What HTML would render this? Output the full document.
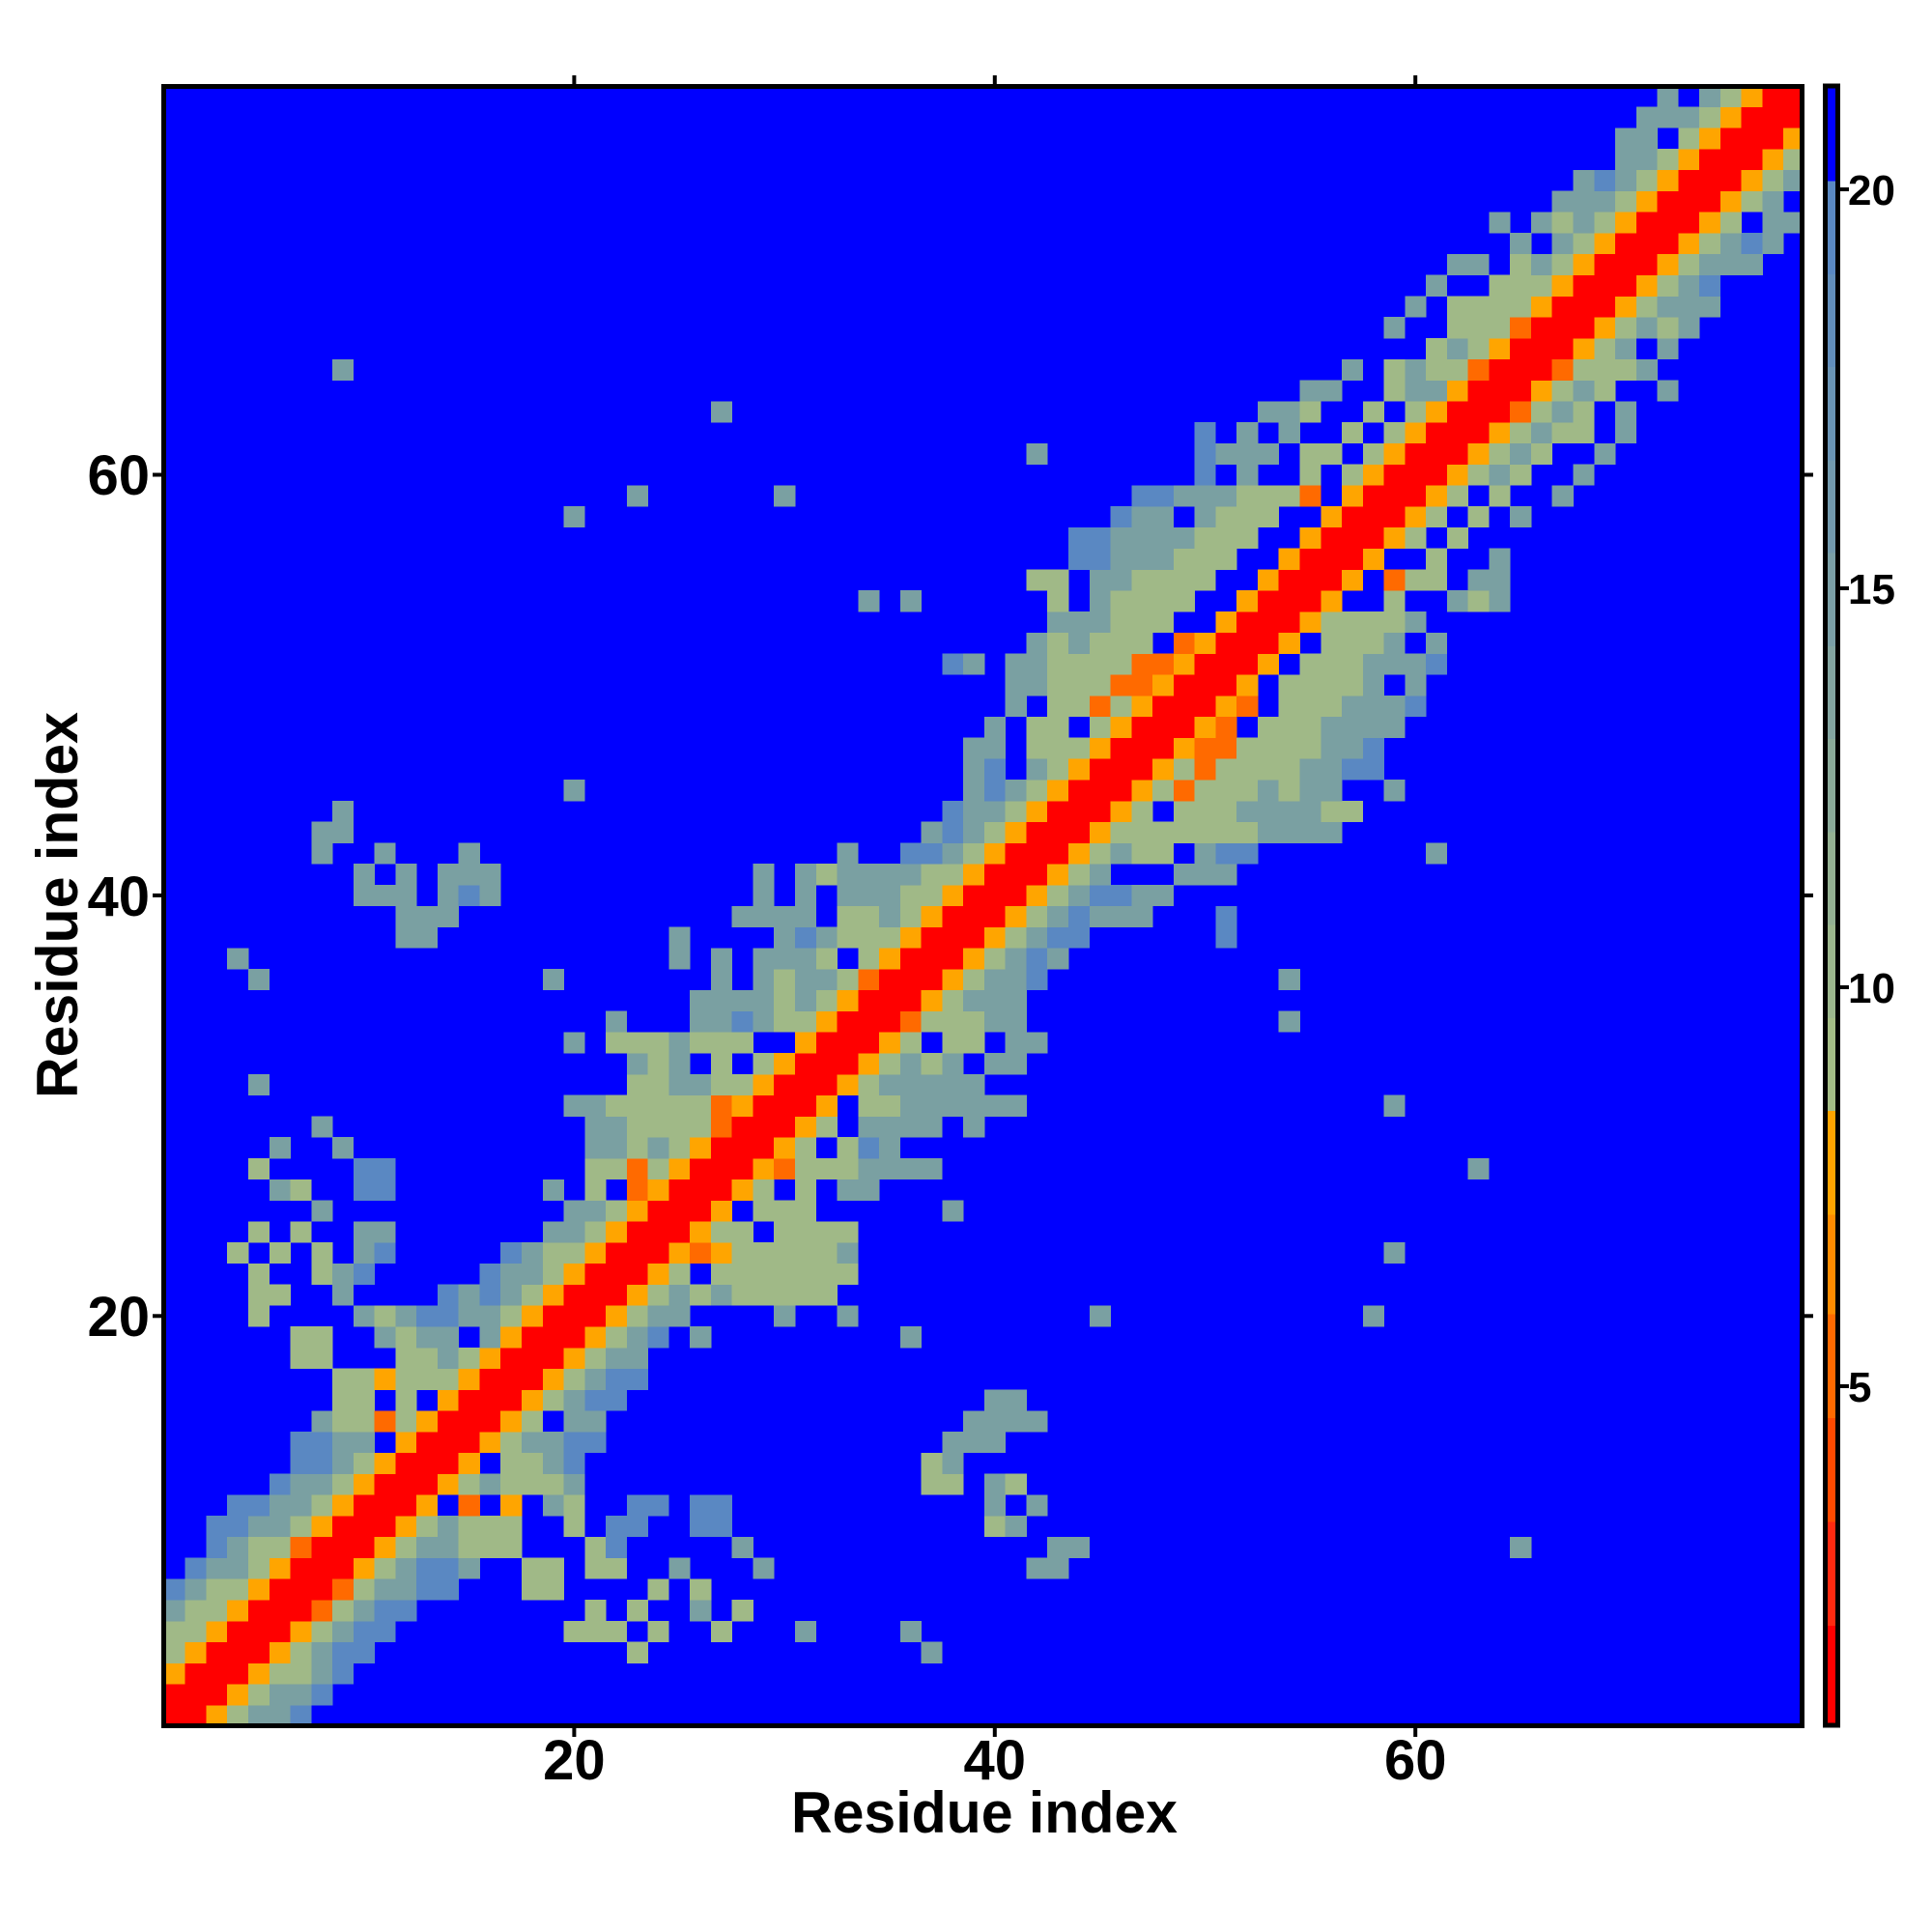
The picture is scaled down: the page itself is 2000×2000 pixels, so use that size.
<!DOCTYPE html>
<html><head><meta charset="utf-8"><style>
html,body{margin:0;padding:0;background:#fff;width:2000px;height:2000px;overflow:hidden}
svg{display:block}
text{font-family:"Liberation Sans",Arial,sans-serif;font-weight:bold;fill:#000}
</style></head><body>
<svg id="s" width="2000" height="2000" viewBox="0 0 2000 2000" xmlns="http://www.w3.org/2000/svg">
<defs><clipPath id="cp"><rect x="169" y="88" width="1699" height="1699"/></clipPath></defs>
<rect x="169" y="88" width="1699" height="1699" fill="#0000ff"/>
<g id="cells" clip-path="url(#cp)" shape-rendering="crispEdges"></g>
<rect x="169.5" y="89.5" width="1696" height="1697" fill="none" stroke="#000" stroke-width="5"/>
<g stroke="#000" stroke-width="4">
<line x1="158" y1="1362.3" x2="169" y2="1362.3"/><line x1="158" y1="926.9" x2="169" y2="926.9"/><line x1="158" y1="491.5" x2="169" y2="491.5"/>
<line x1="1866" y1="1362.3" x2="1877" y2="1362.3"/><line x1="1866" y1="926.9" x2="1877" y2="926.9"/><line x1="1866" y1="491.5" x2="1877" y2="491.5"/>
<line x1="594.4" y1="1787" x2="594.4" y2="1798"/><line x1="1029.8" y1="1787" x2="1029.8" y2="1798"/><line x1="1465.2" y1="1787" x2="1465.2" y2="1798"/>
<line x1="594.4" y1="78" x2="594.4" y2="89"/><line x1="1029.8" y1="78" x2="1029.8" y2="89"/><line x1="1465.2" y1="78" x2="1465.2" y2="89"/>
</g>
<g font-size="58" text-anchor="middle">
<text x="594.4" y="1842">20</text><text x="1029.8" y="1842">40</text><text x="1465.2" y="1842">60</text>
</g>
<g font-size="58" text-anchor="end">
<text x="155" y="1383">20</text><text x="155" y="948">40</text><text x="155" y="512">60</text>
</g>
<text x="1019" y="1897" font-size="60" text-anchor="middle" textLength="400" lengthAdjust="spacingAndGlyphs">Residue index</text>
<text transform="translate(80,937) rotate(-90)" x="0" y="0" font-size="60" text-anchor="middle" textLength="400" lengthAdjust="spacingAndGlyphs">Residue index</text>
<g id="cb" shape-rendering="crispEdges"></g>
<rect x="1889.5" y="89" width="13" height="1697" fill="none" stroke="#000" stroke-width="5"/>
<g stroke="#000" stroke-width="4">
<line x1="1904" y1="196" x2="1914" y2="196"/><line x1="1904" y1="609" x2="1914" y2="609"/><line x1="1904" y1="1022" x2="1914" y2="1022"/><line x1="1904" y1="1435" x2="1914" y2="1435"/>
</g>
<g font-size="44">
<text x="1913" y="212">20</text><text x="1913" y="625">15</text><text x="1913" y="1038">10</text><text x="1913" y="1451">5</text>
</g>
</svg>
<script>
var C={R:'#ff0000',O:'#ffa500',D:'#ff6a00',G:'#a0b987',M:'#7aa0a2',S:'#5a88c2','.':'#0000ff'};
var N=78,g=[];
for(var r=1;r<=N;r++){g[r]=[];for(var c=1;c<=N;c++){var d=Math.abs(r-c);g[r][c]=d<=1?'R':(d==2?'O':'.');}}
var D={
1:[[1,"RROGMMS"]],
2:[[1,"RRROGMMS"]],
3:[[1,"ORRROGGMS"]],
4:[[1,"GORRROGMSS"],[23,"G"],[37,"M"]],
5:[[1,"GGORRROGMSS"],[20,"GGG.G..G"],[31,"M"],[36,"M"]],
6:[[1,"MGGORRRDGMSS"],[21,"G.G..M.G"]],
7:[[1,"SMGGORRRDGMMSS"],[18,"GG"],[24,"G.G"]],
8:[[2,"SMMGORRROGMSSM"],[18,"GG"],[21,"GG"],[25,"M"],[29,"M"],[42,"MM"]],
9:[[3,"SMGGDRRROGMMGGG"],[21,"GS"],[28,"M"],[43,"MM"],[65,"M"]],
10:[[3,"SSMMGORRROGMGGG"],[20,"G.SS"],[26,"SS"],[40,"GM"]],
11:[[4,"SSMMGORRRO.D.O.MG"],[23,"SS.SS"],[40,"M.M"]],
12:[[6,"SMMGORRROGMGGGM"],[37,"GG.MG"]],
13:[[7,"SSMGORRRO.GGMS"],[37,"GM"]],
14:[[7,"SSMM.ORRROGMMSS"],[38,"MMM"]],
15:[[8,"MGGDGORRROG.MM"],[39,"MMMM"]],
16:[[9,"GG.G.ORRROGMSS"],[40,"MM"]],
17:[[9,"GGOGGGORRROGMSS"]],
18:[[7,"GG"],[12,"GGMGORRROGMM"]],
19:[[7,"GG"],[11,"MGMM.MORRROGMS.M"],[36,"M"]],
20:[[5,"G"],[10,"MGMSSMMGORRROGMM"],[30,"M"],[33,"M"],[45,"M"],[58,"M"]],
21:[[5,"GG"],[9,"M"],[14,"SMSMGORRROGMGM"],[28,"GGGGG"]],
22:[[5,"G"],[8,"GMS"],[16,"SMMGORRROG.G"],[28,"GGGGGG"]],
23:[[4,"G.G.G"],[10,"MS"],[17,"SMGGORRRODO"],[28,"GGGGGM"],[59,"M"]],
24:[[5,"G.G"],[10,"MM"],[19,"MMGORRROG"],[28,"G.GGGG"]],
25:[[8,"M"],[20,"MMGORRRO"],[29,"GGG"],[38,"M"]],
26:[[6,"MG"],[10,"SS"],[19,"M.G.DORRR"],[29,"G.G.MM"]],
27:[[5,"G"],[10,"SS"],[21,"GGDGORRRODGGGMMMM"],[63,"M"]],
28:[[6,"M"],[9,"M"],[21,"MMGMGORRROG.GSM"]],
29:[[8,"M"],[21,"MMGGGGDRRROG.MMMM.M"]],
30:[[20,"MMGGGGGDORRRO.GGMMMMMM"],[59,"M"]],
31:[[5,"M"],[23,"GGMMGGORRROGMMMMM"]],
32:[[23,"MGM.G.GORRROGMGM.MM"]],
33:[[20,"M.GGGMGGG..ORRROG.GG.MM"]],
34:[[22,"M...MMSMGGORRRDGGGMM"],[54,"M"]],
35:[[26,"MMMMGMGORRROGMMM"]],
36:[[5,"M"],[19,"M"],[27,"M.MGMMGDRRROGMMS"],[54,"M"]],
37:[[4,"M"],[25,"M"],[27,"M.MMMG.GORRROGMSM"]],
38:[[12,"MM"],[25,"M"],[30,"MSMGGGORRROGMSS"],[51,"S"]],
39:[[12,"MMM"],[28,"MMMM.GGMGORRROGMSMMM"],[51,"S"]],
40:[[10,"MMM.MSM"],[29,"M.M.MMMGGORRROGMSSMM"]],
41:[[10,"M.M.MMM"],[29,"M.MGMMMMGGORRROGM...MMM"]],
42:[[8,"M..M...M"],[33,"M..SSMGORRROGMGG.MSS"],[61,"M"]],
43:[[8,"MM"],[37,"MSMGORRROGGGGGGGMMMM"]],
44:[[9,"M"],[38,"SMMGORRROG.GGGMMMMGG"]],
45:[[20,"M"],[39,"MSMGORRROGDGGGMGMM..M"]],
46:[[39,"MS.MGORRROGDGGGGMMSS"]],
47:[[39,"MM.GGGORRRODDGGGGMMS"]],
48:[[40,"M.GG.GORRROD.GGGMMMM"]],
49:[[41,"M.GGDGORRROD.GGGMMMS"]],
50:[[41,"MMGGGDDORRRO.GGGGM.M"]],
51:[[38,"SM.MMGGGGDDORRRO.GGGMMMS"]],
52:[[42,"MGMGGG.DORRRO.GGGM.M"]],
53:[[43,"MMMGGG..ORRROGGGGM"]],
54:[[34,"M"],[36,"M"],[43,"G"],[45,"MGGGG..ORRRO..G..MGM"]],
55:[[42,"GG"],[45,"MMGGGG..ORRRO.DGG.MM"]],
56:[[44,"SSMMMGGG..ORRRO..G..M"]],
57:[[44,"SSMMMMGGG..ORRROG.G"]],
58:[[20,"M"],[46,"SMM.MGGG..ORRROG.G.M"]],
59:[[23,"M"],[30,"M"],[47,"SSMMMGGGD.ORRROG.G..M"]],
60:[[50,"S.M..G.GORRROGMG..M"]],
61:[[42,"M"],[50,"SMMM.GG.GORRROGMG..M"]],
62:[[50,"S.M.M..G.GORRROGMGG.M"]],
63:[[27,"M"],[53,"MMG..G.GORRRDGMG.M"]],
64:[[55,"MM..GMMORRROGMG..M"]],
65:[[9,"M"],[57,"M.GMGGDRRRDGGGM"]],
66:[[61,"GMGORRROGM.M"]],
67:[[59,"M..GGGDRRROGMGM"]],
68:[[60,"M.GGGGORRROGMMM"]],
69:[[61,"M..GGGORRROGMS"]],
70:[[62,"MM.GMGORRROGMMM"]],
71:[[65,"M.MGORRROGMSM"]],
72:[[64,"M.MGMGORRROG.MM"]],
73:[[67,"MMMGORRROGM."]],
74:[[68,"MSMGORRROGM"]],
75:[[70,"MMGORRROG"]],
76:[[70,"MM.GORRRO"]],
77:[[71,"MMMGORRR"]],
78:[[72,"M.MGORR"]]
};
for(var k in D){var r=+k;D[k].forEach(function(p){for(var i=0;i<p[1].length;i++){var c=p[0]+i;if(c>=1&&c<=N&&p[1][i]!='_')g[r][c]=p[1][i];}});}
var ns='http://www.w3.org/2000/svg',cw=21.77,h='';
for(var r=1;r<=N;r++)for(var c=1;c<=N;c++){var v=g[r][c];if(v=='.')continue;
var x=169.9+(c-1)*cw,y=1786.8-r*cw;
h+='<rect x="'+x.toFixed(2)+'" y="'+y.toFixed(2)+'" width="22.1" height="22.1" fill="'+C[v]+'"/>';}
document.getElementById('cells').innerHTML=h;
// colorbar
function yv(v){return 1435-(v-5)*82.6;}
var cb='';
function seg(v1,v2,col){var a=Math.max(yv(v2),88),b=Math.min(yv(v1),1787);cb+='<rect x="1889" y="'+a.toFixed(1)+'" width="14" height="'+(b-a+0.5).toFixed(1)+'" fill="'+col+'"/>';}
seg(20.1,22,'#0000ff');
var c1=[90,136,194],c2=[164,189,134],n=10;
for(var i=0;i<n;i++){var t=i/(n-1);var col='rgb('+Math.round(c1[0]+(c2[0]-c1[0])*t)+','+Math.round(c1[1]+(c2[1]-c1[1])*t)+','+Math.round(c1[2]+(c2[2]-c1[2])*t)+')';
var vt=20.1-i*(20.1-8.45)/n,vb=20.1-(i+1)*(20.1-8.45)/n;seg(vb,vt,col);}
seg(7.15,8.45,'#ffa500');seg(5.9,7.15,'#ff8c00');seg(4.6,5.9,'#ff6a00');seg(3.3,4.6,'#ff4a00');seg(2.0,3.3,'#ff2a10');seg(0,2.0,'#ff0000');
document.getElementById('cb').innerHTML=cb;
</script>
</body></html>
